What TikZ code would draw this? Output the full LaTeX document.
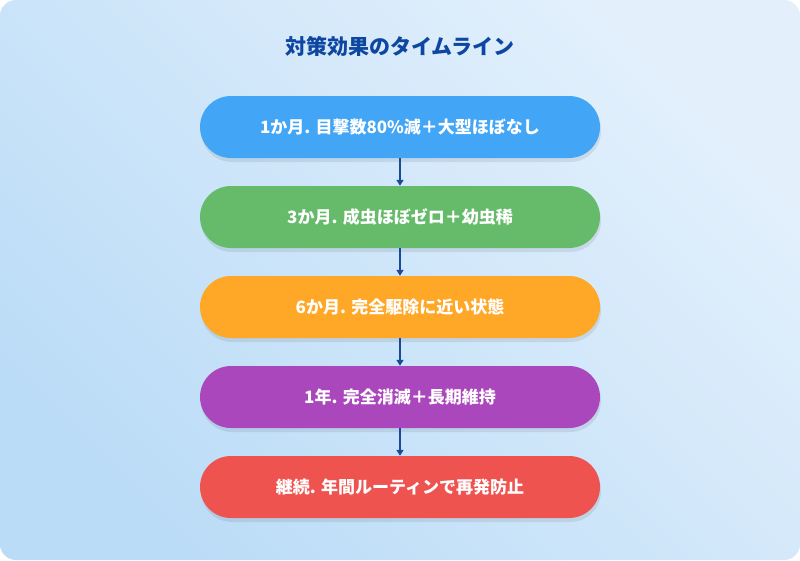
\documentclass[tikz,border=0pt]{standalone}
\usepackage{fontspec}
\setmainfont{Noto Sans CJK JP}
\usetikzlibrary{arrows.meta}
\definecolor{bgA}{HTML}{E3F0FC}
\definecolor{bgB}{HTML}{BBDCF7}
\definecolor{ttl}{HTML}{0D47A1}
\definecolor{arr}{HTML}{1A4A9C}
\definecolor{c1}{HTML}{42A5F5}
\definecolor{c2}{HTML}{66BB6A}
\definecolor{c3}{HTML}{FFA726}
\definecolor{c4}{HTML}{AB47BC}
\definecolor{c5}{HTML}{EF5350}
\begin{document}
\begin{tikzpicture}[x=1pt,y=-1pt,
  pill/.style={rounded corners=31pt,minimum width=400pt,minimum height=62pt,text=white,font=\bfseries\fontsize{17}{20}\selectfont,inner sep=0pt},
  conn/.style={draw=arr,line width=1.6pt,-{Triangle[length=6pt,width=7pt]}}]
\useasboundingbox (0,0) rectangle (800,560);
\shade[rounded corners=16pt,left color=bgA,right color=bgB,shading angle=-45] (0,0) rectangle (800,560);
\node[text=ttl,font=\bfseries\fontsize{21}{24}\selectfont] (t) at (400,46) {対策効果のタイムライン};
\foreach \y/\c in {127/c1,217/c2,307/c3,397/c4,487/c5}
  \fill[black,opacity=0.08,rounded corners=31pt] (201,\y-28) rectangle (601,\y+35);
\node[pill,fill=c1] (b1) at (400,127) {1か月. 目撃数80\%減＋大型ほぼなし};
\node[pill,fill=c2] (b2) at (400,217) {3か月. 成虫ほぼゼロ＋幼虫稀};
\node[pill,fill=c3] (b3) at (400,307) {6か月. 完全駆除に近い状態};
\node[pill,fill=c4] (b4) at (400,397) {1年. 完全消滅＋長期維持};
\node[pill,fill=c5] (b5) at (400,487) {継続. 年間ルーティンで再発防止};
\draw[conn] (b1) -- (b2);
\draw[conn] (b2) -- (b3);
\draw[conn] (b3) -- (b4);
\draw[conn] (b4) -- (b5);
\end{tikzpicture}
\end{document}
